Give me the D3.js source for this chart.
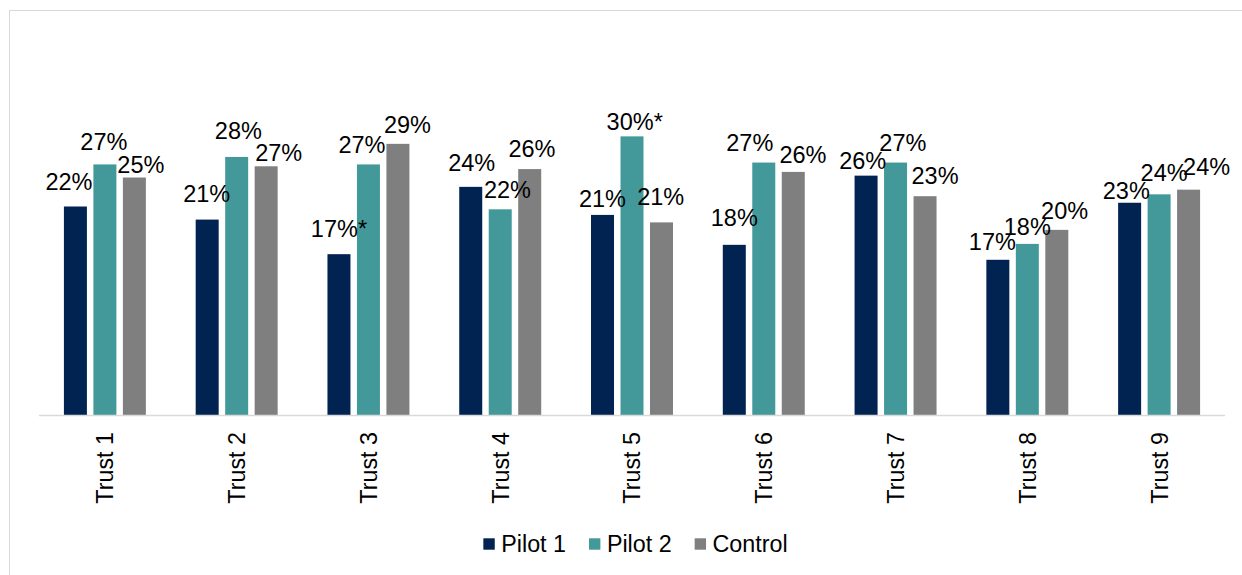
<!DOCTYPE html>
<html>
<head>
<meta charset="utf-8">
<script src="https://cdn.jsdelivr.net/npm/d3@7"></script>
<style>
  html, body { margin: 0; padding: 0; background: #fff; }
  svg { display: block; }
  text { font-family: "Liberation Sans", Arial, sans-serif; fill: #000; }
</style>
</head>
<body>
<svg id="chart" width="1242" height="575"></svg>
<script>
// ---- data ----
const categories = ["Trust 1", "Trust 2", "Trust 3", "Trust 4", "Trust 5", "Trust 6", "Trust 7", "Trust 8", "Trust 9"];
const seriesNames = ["Pilot 1", "Pilot 2", "Control"];
const seriesColors = ["#002351", "#43999A", "#7F7F7F"];
const pilot1 = [22.3, 20.9, 17.2, 24.4, 21.4, 18.2, 25.6, 16.6, 22.7];
const pilot2 = [26.8, 27.6, 26.8, 22.0, 29.8, 27.0, 27.0, 18.3, 23.6];
const control = [25.4, 26.6, 29.0, 26.3, 20.6, 26.0, 23.4, 19.8, 24.1];
const pilot1Sig = [0, 0, 1, 0, 0, 0, 0, 0, 0];
const pilot2Sig = [0, 0, 0, 0, 1, 0, 0, 0, 0];
const controlSig = [0, 0, 0, 0, 0, 0, 0, 0, 0];

// label nudges (dx from bar centre, gap above bar top), as placed in the original
const pilot1LabelDx = [-6.5, -0.5, 0, 1, 0, 0, -3.3, -5.5, -3.3];
const pilot1LabelGap = [16.7, 18, 17, 16, 8, 18.4, 6.7, 9.3, 3.7];
const pilot2LabelDx = [-1, 1.7, -6.5, 7.3, 2.7, -14, 7.3, 0, 5];
const pilot2LabelGap = [14, 17.7, 11, 11, 6.7, 11.7, 12, 9, 13.7];
const controlLabelDx = [6.5, 12.5, 9.5, 2.3, -0.8, 9.7, 10, 7.8, 18];
const controlLabelGap = [4.3, 5.3, 11, 12, 17.7, 9.3, 12, 11.3, 15];

const seriesValues = [pilot1, pilot2, control];
const seriesSig = [pilot1Sig, pilot2Sig, controlSig];
const seriesDx = [pilot1LabelDx, pilot2LabelDx, controlLabelDx];
const seriesGap = [pilot1LabelGap, pilot2LabelGap, controlLabelGap];

// ---- layout ----
const svg = d3.select("#chart");
const plotLeft = 39, plotRight = 1225, baseY = 415;

svg.append("rect")
  .attr("x", 9.5).attr("y", 10.5)
  .attr("width", 1400).attr("height", 700)
  .attr("fill", "none").attr("stroke", "#D9D9D9").attr("stroke-width", 1);

const x0 = d3.scaleBand().domain(categories).range([plotLeft, plotRight])
  .paddingInner(0.378).paddingOuter(0.189);
const x1 = d3.scaleBand().domain(seriesNames).range([0, x0.bandwidth()])
  .paddingInner(0.22).paddingOuter(0);
const y = d3.scaleLinear().domain([0, 35]).range([baseY, baseY - 35 * 9.35]);

const rows = [];
categories.forEach((c, i) => {
  seriesNames.forEach((s, j) => {
    rows.push({ cat: c, ser: s, j: j, v: seriesValues[j][i], sig: seriesSig[j][i],
                dx: seriesDx[j][i], gap: seriesGap[j][i] });
  });
});

// bars
svg.append("g").selectAll("rect").data(rows).join("rect")
  .attr("x", d => x0(d.cat) + x1(d.ser))
  .attr("y", d => y(d.v))
  .attr("width", x1.bandwidth())
  .attr("height", d => y(0) - y(d.v))
  .attr("fill", d => seriesColors[d.j]);

// axis baseline
svg.append("line")
  .attr("x1", plotLeft).attr("x2", plotRight)
  .attr("y1", baseY + 0.5).attr("y2", baseY + 0.5)
  .attr("stroke", "#D9D9D9").attr("stroke-width", 1.5);

// value labels
svg.append("g").selectAll("text").data(rows).join("text")
  .attr("x", d => x0(d.cat) + x1(d.ser) + x1.bandwidth() / 2 + d.dx)
  .attr("y", d => y(d.v) - d.gap)
  .attr("text-anchor", "middle")
  .style("font-size", "23.5px")
  .text(d => Math.round(d.v) + "%" + (d.sig ? "*" : ""));

// category labels
svg.append("g").selectAll("text").data(categories).join("text")
  .attr("transform", d => `translate(${x0(d) + x0.bandwidth() / 2},${baseY + 17}) rotate(-90)`)
  .attr("text-anchor", "end")
  .attr("dy", "0.36em")
  .style("font-size", "23.3px")
  .text(d => d);

// legend
const legend = svg.append("g");
const legendBaseline = 551.7, sq = 11.4, sqGap = 6.5, itemGap = 23;
const items = legend.selectAll("g").data(seriesNames).join("g");
items.append("rect")
  .attr("width", sq).attr("height", sq)
  .attr("y", legendBaseline - 13.4)
  .attr("fill", (d, i) => seriesColors[i]);
items.append("text")
  .attr("x", sq + sqGap)
  .attr("y", legendBaseline)
  .style("font-size", "23.3px")
  .text(d => d);
let cursor = 0;
const widths = [];
items.each(function () {
  const w = sq + sqGap + d3.select(this).select("text").node().getComputedTextLength();
  widths.push(w);
});
const total = d3.sum(widths) + itemGap * (widths.length - 1);
const startX = 635.5 - total / 2;
items.attr("transform", (d, i) => {
  const t = `translate(${startX + cursor},0)`;
  cursor += widths[i] + itemGap;
  return t;
});
</script>
</body>
</html>
